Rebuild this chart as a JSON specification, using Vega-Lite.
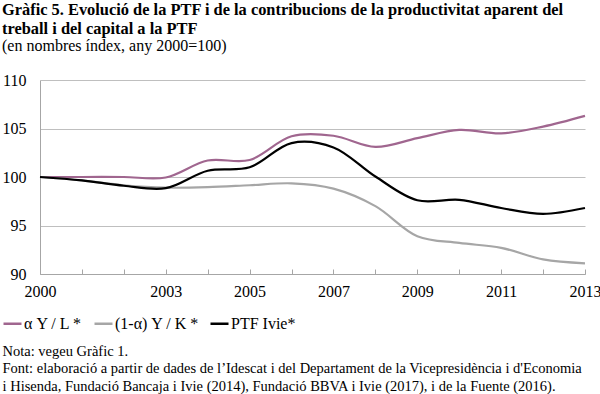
{
  "$schema": "https://vega.github.io/schema/vega-lite/v6.json",
  "autosize": "none",
  "width": 545,
  "height": 194,
  "padding": {"left": 40, "top": 80, "right": 15, "bottom": 120},
  "background": "white",
  "config": {
    "font": "Liberation Serif",
    "view": {"stroke": null}
  },
  "title": {
    "text": ["Gràfic 5. Evolució de la PTF i de la contribucions de la productivitat aparent del", "treball i del capital a la PTF"],
    "subtitle": "(en nombres índex, any 2000=100)",
    "anchor": "start",
    "frame": "group",
    "dx": -38,
    "offset": 18,
    "font": "Liberation Serif",
    "fontSize": 16.4,
    "fontWeight": "bold",
    "color": "black",
    "lineHeight": 19,
    "subtitleFont": "Liberation Serif",
    "subtitleFontSize": 16,
    "subtitleColor": "black",
    "subtitlePadding": 1
  },
  "data": {
    "values": [
      {"year": 2000, "series": "α Y / L *", "value": 100},
      {"year": 2001, "series": "α Y / L *", "value": 100},
      {"year": 2002, "series": "α Y / L *", "value": 100},
      {"year": 2003, "series": "α Y / L *", "value": 99.95},
      {"year": 2004, "series": "α Y / L *", "value": 101.7},
      {"year": 2005, "series": "α Y / L *", "value": 101.75},
      {"year": 2006, "series": "α Y / L *", "value": 104.2},
      {"year": 2007, "series": "α Y / L *", "value": 104.25},
      {"year": 2008, "series": "α Y / L *", "value": 103.1},
      {"year": 2009, "series": "α Y / L *", "value": 104.0},
      {"year": 2010, "series": "α Y / L *", "value": 104.85},
      {"year": 2011, "series": "α Y / L *", "value": 104.5},
      {"year": 2012, "series": "α Y / L *", "value": 105.2},
      {"year": 2013, "series": "α Y / L *", "value": 106.3},
      {"year": 2000, "series": "(1-α) Y / K *", "value": 100},
      {"year": 2001, "series": "(1-α) Y / K *", "value": 99.65},
      {"year": 2002, "series": "(1-α) Y / K *", "value": 99.15},
      {"year": 2003, "series": "(1-α) Y / K *", "value": 98.9},
      {"year": 2004, "series": "(1-α) Y / K *", "value": 98.95},
      {"year": 2005, "series": "(1-α) Y / K *", "value": 99.15},
      {"year": 2006, "series": "(1-α) Y / K *", "value": 99.35},
      {"year": 2007, "series": "(1-α) Y / K *", "value": 98.8},
      {"year": 2008, "series": "(1-α) Y / K *", "value": 97.0},
      {"year": 2009, "series": "(1-α) Y / K *", "value": 93.9},
      {"year": 2010, "series": "(1-α) Y / K *", "value": 93.2},
      {"year": 2011, "series": "(1-α) Y / K *", "value": 92.7},
      {"year": 2012, "series": "(1-α) Y / K *", "value": 91.5},
      {"year": 2013, "series": "(1-α) Y / K *", "value": 91.1},
      {"year": 2000, "series": "PTF Ivie*", "value": 100},
      {"year": 2001, "series": "PTF Ivie*", "value": 99.65},
      {"year": 2002, "series": "PTF Ivie*", "value": 99.1},
      {"year": 2003, "series": "PTF Ivie*", "value": 98.85},
      {"year": 2004, "series": "PTF Ivie*", "value": 100.65},
      {"year": 2005, "series": "PTF Ivie*", "value": 101.0},
      {"year": 2006, "series": "PTF Ivie*", "value": 103.5},
      {"year": 2007, "series": "PTF Ivie*", "value": 103.05},
      {"year": 2008, "series": "PTF Ivie*", "value": 100.05},
      {"year": 2009, "series": "PTF Ivie*", "value": 97.6},
      {"year": 2010, "series": "PTF Ivie*", "value": 97.65},
      {"year": 2011, "series": "PTF Ivie*", "value": 96.8},
      {"year": 2012, "series": "PTF Ivie*", "value": 96.2},
      {"year": 2013, "series": "PTF Ivie*", "value": 96.8}
    ]
  },
  "mark": {"type": "line", "interpolate": "catmull-rom", "strokeWidth": 2.2},
  "encoding": {
    "x": {
      "field": "year",
      "type": "quantitative",
      "scale": {"domain": [2000, 2013], "nice": false, "zero": false},
      "axis": {
        "values": [2000, 2001, 2002, 2003, 2004, 2005, 2006, 2007, 2008, 2009, 2010, 2011, 2012, 2013],
        "labelExpr": "indexof([2000, 2003, 2005, 2007, 2009, 2011, 2013], datum.value) >= 0 ? '' + datum.value : ''",
        "labelFlush": false,
        "labelOverlap": false,
        "grid": false,
        "domainColor": "#a6a6a6",
        "tickColor": "#a6a6a6",
        "tickSize": -5,
        "labelPadding": 14,
        "labelFont": "Liberation Serif",
        "labelFontSize": 16,
        "labelColor": "black",
        "title": ["Nota: vegeu Gràfic 1.", "Font: elaboració a partir de dades de l’Idescat i del Departament de la Vicepresidència i d'Economia", "i Hisenda, Fundació Bancaja i Ivie (2014), Fundació BBVA i Ivie (2017), i de la Fuente (2016)."],
        "titleAnchor": "start",
        "titleAlign": "left",
        "titleBaseline": "alphabetic",
        "titleX": -38,
        "titleY": 81,
        "titleFont": "Liberation Serif",
        "titleFontSize": 14.5,
        "titleFontWeight": "normal",
        "titleColor": "black",
        "titleLineHeight": 17.5
      }
    },
    "y": {
      "field": "value",
      "type": "quantitative",
      "scale": {"domain": [90, 110], "nice": false, "zero": false},
      "axis": {
        "values": [90, 95, 100, 105, 110],
        "grid": true,
        "gridColor": "#bfbfbf",
        "domainColor": "#a6a6a6",
        "ticks": false,
        "labelPadding": 14,
        "labelFont": "Liberation Serif",
        "labelFontSize": 16,
        "labelColor": "black",
        "title": null
      }
    },
    "color": {
      "field": "series",
      "type": "nominal",
      "scale": {
        "domain": ["α Y / L *", "(1-α) Y / K *", "PTF Ivie*"],
        "range": ["#a0668f", "#a6a6a6", "#000000"]
      },
      "legend": {
        "orient": "none",
        "legendX": -38,
        "legendY": 233,
        "direction": "horizontal",
        "title": null,
        "symbolType": "stroke",
        "symbolSize": 324,
        "symbolStrokeWidth": 2.5,
        "labelFont": "Liberation Serif",
        "labelFontSize": 16,
        "labelColor": "black",
        "labelOffset": 1,
        "columnPadding": 6,
        "padding": 0
      }
    }
  }
}
